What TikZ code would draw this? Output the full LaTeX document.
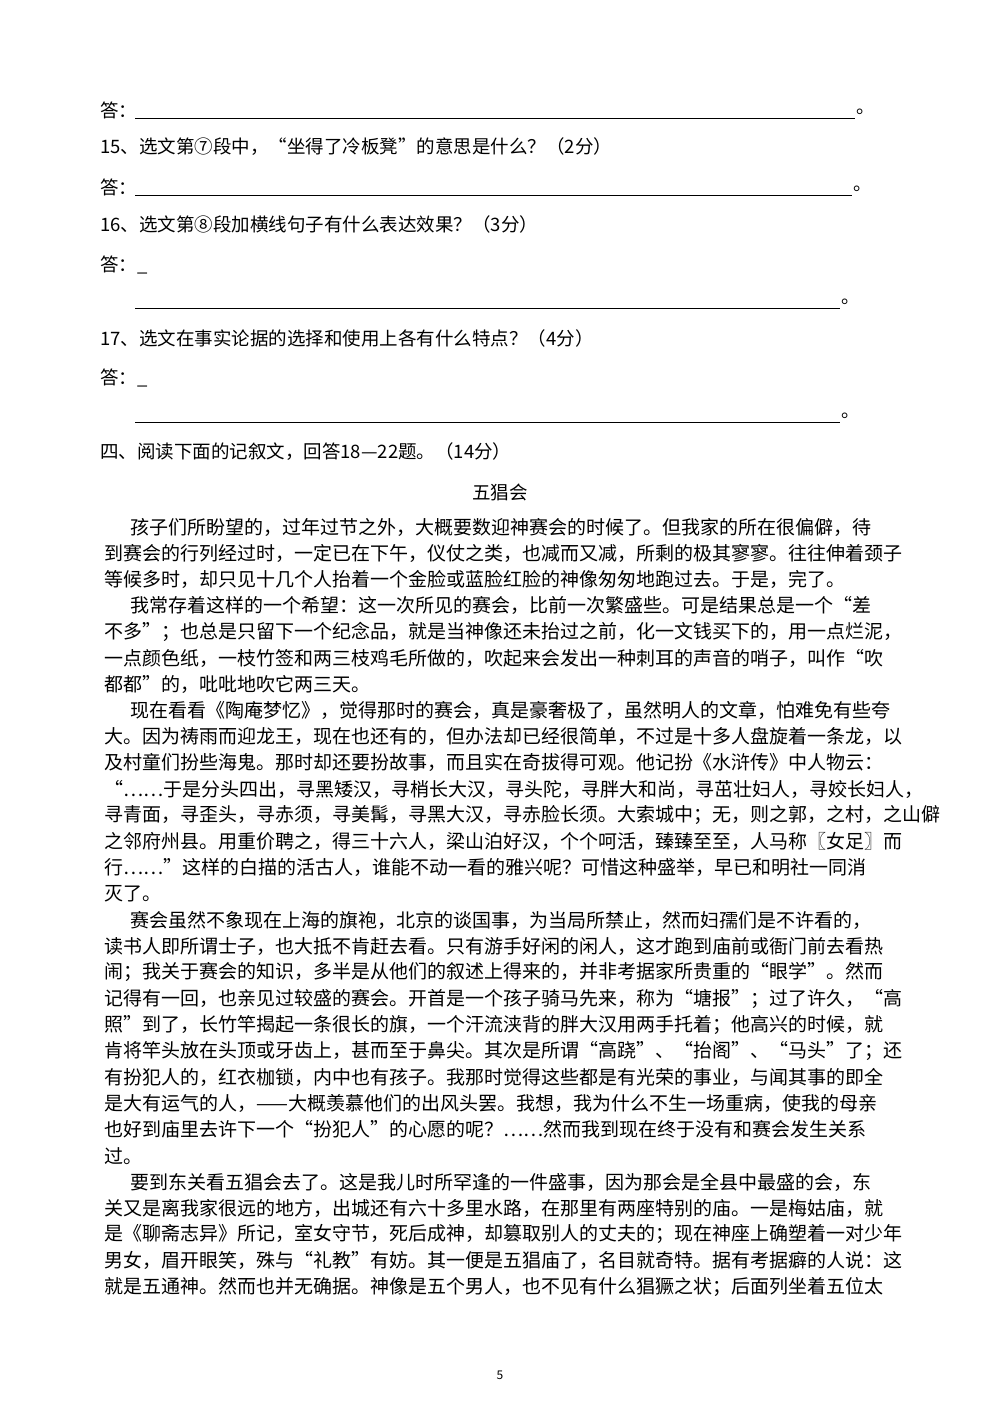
\documentclass[tikz,border=0pt]{standalone}
\usepackage{fontspec}
\setmainfont{Noto Sans CJK SC}
\XeTeXlinebreaklocale "zh"
\XeTeXlinebreakskip=0pt plus 3pt minus 1pt
\newcommand\bline[3]{\node[body] (b#1) at (#2pt,{-(527+26.2*(#1-1))*1pt}) {#3};}
\newcommand\fl[2]{\makebox[#1pt][s]{#2}}
\begin{document}
\begin{tikzpicture}[
  body/.style={anchor=west,inner sep=0pt,font=\fontsize{19}{19}\selectfont},
  q/.style={anchor=west,inner sep=0pt,font=\fontsize{18.5}{19}\selectfont},
  ans/.style={line width=0.8pt}]
\useasboundingbox (0,0) rectangle (1000pt,-1414pt);
% questions
\node[q] (a14) at (100pt,-110pt) {答：};
\coordinate (a14s) at (135pt,-118pt); \coordinate (a14e) at (855pt,-118pt);
\draw[ans] (a14s) -- (a14e); \node[q] (p14) at (856pt,-112pt) {。};
\node[q] (q15) at (100pt,-147pt) {15、选文第⑦段中，“坐得了冷板凳”的意思是什么？（2分）};
\node[q] (a15) at (100pt,-187pt) {答：};
\coordinate (a15s) at (135pt,-195pt); \coordinate (a15e) at (852pt,-195pt);
\draw[ans] (a15s) -- (a15e); \node[q] (p15) at (853pt,-189pt) {。};
\node[q] (q16) at (100pt,-224pt) {16、选文第⑧段加横线句子有什么表达效果？（3分）};
\node[q] (a16) at (100pt,-265pt) {答：\_};
\coordinate (a16s) at (135pt,-308pt); \coordinate (a16e) at (840pt,-308pt);
\draw[ans] (a16s) -- (a16e); \node[q] (p16) at (841pt,-302pt) {。};
\node[q] (q17) at (100pt,-338pt) {17、选文在事实论据的选择和使用上各有什么特点？（4分）};
\node[q] (a17) at (100pt,-378pt) {答：\_};
\coordinate (a17s) at (135pt,-422pt); \coordinate (a17e) at (840pt,-422pt);
\draw[ans] (a17s) -- (a17e); \node[q] (p17) at (841pt,-416pt) {。};
\node[q] (s4) at (100pt,-452pt) {四、阅读下面的记叙文，回答18—22题。（14分）};
\node[q,anchor=center] (title) at (500pt,-492pt) {五猖会};
% body
\bline{1}{130}{\fl{775}{孩子们所盼望的，过年过节之外，大概要数迎神赛会的时候了。但我家的所在很偏僻，待}}
\bline{2}{104}{\fl{801}{到赛会的行列经过时，一定已在下午，仪仗之类，也减而又减，所剩的极其寥寥。往往伸着颈子}}
\bline{3}{104}{等候多时，却只见十几个人抬着一个金脸或蓝脸红脸的神像匆匆地跑过去。于是，完了。}
\bline{4}{130}{\fl{775}{我常存着这样的一个希望：这一次所见的赛会，比前一次繁盛些。可是结果总是一个“差}}
\bline{5}{104}{\fl{801}{不多”；也总是只留下一个纪念品，就是当神像还未抬过之前，化一文钱买下的，用一点烂泥，}}
\bline{6}{104}{\fl{801}{一点颜色纸，一枝竹签和两三枝鸡毛所做的，吹起来会发出一种刺耳的声音的哨子，叫作“吹}}
\bline{7}{104}{都都”的，吡吡地吹它两三天。}
\bline{8}{130}{\fl{775}{现在看看《陶庵梦忆》，觉得那时的赛会，真是豪奢极了，虽然明人的文章，怕难免有些夸}}
\bline{9}{104}{\fl{801}{大。因为祷雨而迎龙王，现在也还有的，但办法却已经很简单，不过是十多人盘旋着一条龙，以}}
\bline{10}{104}{\fl{801}{及村童们扮些海鬼。那时却还要扮故事，而且实在奇拔得可观。他记扮《水浒传》中人物云：}}
\bline{11}{104}{\fl{801}{“……于是分头四出，寻黑矮汉，寻梢长大汉，寻头陀，寻胖大和尚，寻茁壮妇人，寻姣长妇人，}}
\bline{12}{104}{\fl{801}{寻青面，寻歪头，寻赤须，寻美髯，寻黑大汉，寻赤脸长须。大索城中；无，则之郭，之村，之山僻}}
\bline{13}{104}{\fl{801}{之邻府州县。用重价聘之，得三十六人，梁山泊好汉，个个呵活，臻臻至至，人马称〖女足〗而}}
\bline{14}{104}{\fl{801}{行……”这样的白描的活古人，谁能不动一看的雅兴呢？可惜这种盛举，早已和明社一同消}}
\bline{15}{104}{灭了。}
\bline{16}{130}{\fl{775}{赛会虽然不象现在上海的旗袍，北京的谈国事，为当局所禁止，然而妇孺们是不许看的，}}
\bline{17}{104}{\fl{801}{读书人即所谓士子，也大抵不肯赶去看。只有游手好闲的闲人，这才跑到庙前或衙门前去看热}}
\bline{18}{104}{\fl{801}{闹；我关于赛会的知识，多半是从他们的叙述上得来的，并非考据家所贵重的“眼学”。然而}}
\bline{19}{104}{\fl{801}{记得有一回，也亲见过较盛的赛会。开首是一个孩子骑马先来，称为“塘报”；过了许久，“高}}
\bline{20}{104}{\fl{801}{照”到了，长竹竿揭起一条很长的旗，一个汗流浃背的胖大汉用两手托着；他高兴的时候，就}}
\bline{21}{104}{\fl{801}{肯将竿头放在头顶或牙齿上，甚而至于鼻尖。其次是所谓“高跷”、“抬阁”、“马头”了；还}}
\bline{22}{104}{\fl{801}{有扮犯人的，红衣枷锁，内中也有孩子。我那时觉得这些都是有光荣的事业，与闻其事的即全}}
\bline{23}{104}{\fl{801}{是大有运气的人，——大概羡慕他们的出风头罢。我想，我为什么不生一场重病，使我的母亲}}
\bline{24}{104}{\fl{801}{也好到庙里去许下一个“扮犯人”的心愿的呢？……然而我到现在终于没有和赛会发生关系}}
\bline{25}{104}{过。}
\bline{26}{130}{\fl{775}{要到东关看五猖会去了。这是我儿时所罕逢的一件盛事，因为那会是全县中最盛的会，东}}
\bline{27}{104}{\fl{801}{关又是离我家很远的地方，出城还有六十多里水路，在那里有两座特别的庙。一是梅姑庙，就}}
\bline{28}{104}{\fl{801}{是《聊斋志异》所记，室女守节，死后成神，却篡取别人的丈夫的；现在神座上确塑着一对少年}}
\bline{29}{104}{\fl{801}{男女，眉开眼笑，殊与“礼教”有妨。其一便是五猖庙了，名目就奇特。据有考据癖的人说：这}}
\bline{30}{104}{\fl{801}{就是五通神。然而也并无确据。神像是五个男人，也不见有什么猖獗之状；后面列坐着五位太}}
\node[inner sep=0pt,font=\fontsize{12}{12}\selectfont] (pg) at (500pt,-1375pt) {5};
\end{tikzpicture}
\end{document}
